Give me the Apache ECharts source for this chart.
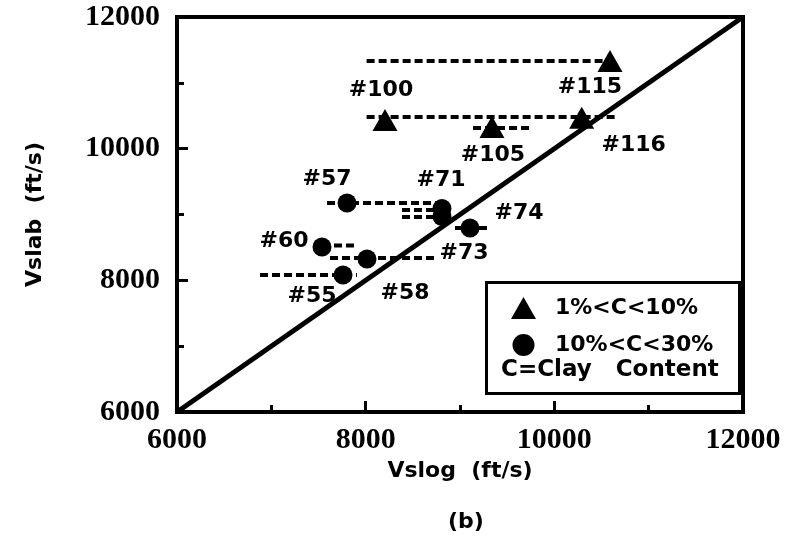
<!DOCTYPE html>
<html>
<head>
<meta charset="utf-8">
<script src="https://cdn.jsdelivr.net/npm/echarts@6/dist/echarts.min.js"></script>
<style>
  html, body { margin: 0; padding: 0; background: #fff; }
  #chart { width: 802px; height: 549px; }
</style>
</head>
<body>
<div id="chart"></div>
<script>
// Samples with 1% < clay < 10% (triangles)
const triNames = ['#115', '#116', '#100', '#105'];
const triX = [10590, 10290, 8205, 9339];
const triY = [11330, 10470, 10436, 10329];

// Samples with 10% < clay < 30% (circles)
const cirNames = ['#57', '#71', '#73', '#74', '#60', '#58', '#55'];
const cirX = [7802, 8809, 8809, 9106, 7537, 8014, 7760];
const cirY = [9175, 9090, 8970, 8795, 8506, 8324, 8081];

// Horizontal range bars: level, from, to (ft/s)
const barY    = [11330, 10480, 10314, 9175, 9068, 8962, 8795, 8530, 8340, 8081];
const barFrom = [8010,  8010,  9138,  7590, 8385, 8385, 8947, 7537, 7622, 6880];
const barTo   = [10590, 10660, 9742,  8756, 8790, 8790, 9318, 7887, 8735, 7908];

// 1:1 reference line
const diagX = [6000, 12000];
const diagY = [6000, 12000];

// Axis settings
const axisMin = 6000, axisMax = 12000, axisStep = 2000;

// Label placement relative to each mark (pixels)
const triLabelOffset = [[-20, 26], [52, 28], [-4, -30], [1, 28]];
const cirLabelOffset = [[-20, -24], [-1, -28], [22, 37], [49, -15], [-38, -6], [38, 34], [-31, 21]];

const labelFont = { fontFamily: 'DejaVu Sans', fontWeight: 'bold', fontSize: 22, color: '#000' };

function points(names, xs, ys, offsets) {
  return names.map((n, i) => ({
    name: n,
    value: [xs[i], ys[i]],
    label: { offset: offsets[i] }
  }));
}

const chart = echarts.init(document.getElementById('chart'), null, { renderer: 'canvas' });

const tickLabel = {
  fontFamily: 'Liberation Serif', fontWeight: 'bold', fontSize: 30, color: '#000',
  formatter: v => String(v)
};
const axisName = { fontFamily: 'DejaVu Sans', fontWeight: 'bold', fontSize: 22, color: '#000' };

chart.setOption({
  backgroundColor: '#fff',
  animation: false,
  grid: {
    left: 177, right: 59, top: 17, bottom: 137,
    show: true, borderColor: '#000', borderWidth: 4, backgroundColor: 'transparent'
  },
  xAxis: {
    type: 'value', min: axisMin, max: axisMax, interval: axisStep,
    name: 'Vslog  (ft/s)', nameLocation: 'middle', nameGap: 46, nameTextStyle: axisName,
    axisLine: { show: true, lineStyle: { color: '#000', width: 4 } },
    axisTick: { show: true, inside: true, length: 11, lineStyle: { color: '#000', width: 3 } },
    minorTick: { show: true, splitNumber: 2, length: 7, lineStyle: { color: '#000', width: 3 } },
    splitLine: { show: false },
    axisLabel: Object.assign({ margin: 13 }, tickLabel)
  },
  yAxis: {
    type: 'value', min: axisMin, max: axisMax, interval: axisStep,
    name: 'Vslab  (ft/s)', nameLocation: 'middle', nameGap: 131, nameTextStyle: axisName,
    axisLine: { show: true, lineStyle: { color: '#000', width: 4 } },
    axisTick: { show: true, inside: true, length: 11, lineStyle: { color: '#000', width: 3 } },
    minorTick: { show: true, splitNumber: 2, length: 7, lineStyle: { color: '#000', width: 3 } },
    splitLine: { show: false },
    axisLabel: Object.assign({ margin: 17 }, tickLabel)
  },
  legend: {
    orient: 'vertical',
    left: 506, top: 292,
    itemWidth: 25, itemHeight: 22, itemGap: 15,
    symbolKeepAspect: true,
    selectedMode: false,
    data: ['1%<C<10%', '10%<C<30%'],
    itemStyle: { opacity: 1 },
    textStyle: { fontFamily: 'DejaVu Sans', fontWeight: 'bold', fontSize: 22, color: '#000', padding: [0, 0, 0, 14] }
  },
  graphic: [
    {
      type: 'rect', left: 485, top: 281, z: 10,
      shape: { width: 253, height: 111 },
      style: { fill: 'transparent', stroke: '#000', lineWidth: 3 }
    },
    {
      type: 'text', left: 501, top: 359, z: 10,
      style: { text: 'C=Clay   Content', fontFamily: 'DejaVu Sans', fontWeight: 'bold', fontSize: 23, fill: '#000' }
    },
    {
      type: 'text', left: 448, top: 511, z: 10,
      style: { text: '(b)', fontFamily: 'DejaVu Sans', fontWeight: 'bold', fontSize: 22, fill: '#000' }
    }
  ],
  series: [
    {
      name: 'range',
      type: 'custom',
      silent: true,
      z: 2,
      encode: { x: [1, 2], y: 0 },
      data: barY.map((y, i) => [y, barFrom[i], barTo[i]]),
      renderItem: function (params, api) {
        const y = api.value(0);
        const p1 = api.coord([api.value(1), y]);
        const p2 = api.coord([api.value(2), y]);
        return {
          type: 'line',
          shape: { x1: p1[0], y1: p1[1], x2: p2[0], y2: p2[1] },
          style: { stroke: '#000', lineWidth: 4, lineDash: [8, 4] }
        };
      }
    },
    {
      name: 'diag',
      type: 'line',
      silent: true,
      z: 3,
      symbol: 'none',
      data: diagX.map((x, i) => [x, diagY[i]]),
      lineStyle: { color: '#000', width: 5 }
    },
    {
      name: '1%<C<10%',
      type: 'scatter',
      z: 4,
      symbol: 'triangle',
      symbolSize: [25, 22],
      itemStyle: { color: '#000', opacity: 1 },
      data: points(triNames, triX, triY, triLabelOffset),
      label: Object.assign({ show: true, position: 'inside', formatter: '{b}' }, labelFont)
    },
    {
      name: '10%<C<30%',
      type: 'scatter',
      z: 4,
      symbol: 'circle',
      symbolSize: 19,
      itemStyle: { color: '#000', opacity: 1 },
      data: points(cirNames, cirX, cirY, cirLabelOffset),
      label: Object.assign({ show: true, position: 'inside', formatter: '{b}' }, labelFont)
    }
  ]
});
</script>
</body>
</html>
